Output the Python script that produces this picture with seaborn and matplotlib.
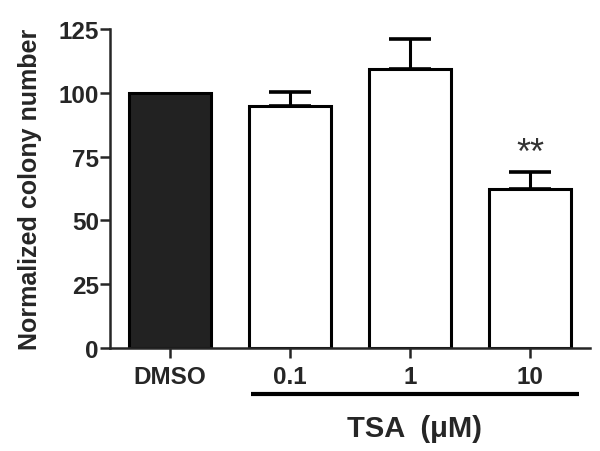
import matplotlib
matplotlib.use("Agg")
import matplotlib.pyplot as plt
import matplotlib.transforms as mtransforms
import numpy as np
import pandas as pd
import seaborn as sns

# values
groups = ["DMSO", "0.1", "1", "10"]
means = [100, 95, 109.5, 62.5]
sems = [0, 5.5, 11.5, 6.5]
bar_colors = ["#222222", "white", "white", "white"]
stars = ["", "", "", "**"]

sns.set_style("ticks")
plt.rcParams["font.family"] = ["Liberation Sans", "DejaVu Sans"]

df = pd.DataFrame({"group": groups, "mean": means, "sem": sems})

fig = plt.figure(figsize=(6, 4.52), dpi=100)
ax = fig.add_axes([110 / 600, 103 / 452, 480 / 600, 319 / 452])

sns.barplot(data=df, x="group", y="mean", hue="group", palette=bar_colors,
            legend=False, width=0.68, edgecolor="black", linewidth=2.2,
            errorbar=None, ax=ax)

# upper-only error bars
x = np.arange(len(groups))
err = np.array(sems)
ax.errorbar(x[err > 0], np.array(means)[err > 0],
            yerr=[np.zeros((err > 0).sum()), err[err > 0]],
            fmt="none", ecolor="black", elinewidth=2.2, capsize=15, capthick=2.6)

for i, s in enumerate(stars):
    if s:
        ax.text(i, means[i] + sems[i] + 0.5, s, ha="center", va="bottom",
                fontsize=26, color="#333333")

ax.set_ylim(0, 125)
ax.set_xlim(-0.5, 3.5)
ax.set_yticks([0, 25, 50, 75, 100, 125])
ax.set_xlabel("")
ax.set_ylabel("Normalized colony number", fontsize=18, fontweight="bold")
ax.yaxis.set_label_coords(-0.142, 0.5)
ax.tick_params(axis="both", direction="out", length=7, width=1.8, labelsize=17.5)
for lab in ax.get_xticklabels() + ax.get_yticklabels():
    lab.set_fontweight("bold")
ax.tick_params(axis="x", pad=5)
ax.tick_params(axis="y", pad=1)

sns.despine(ax=ax)
for sp in ["left", "bottom"]:
    ax.spines[sp].set_linewidth(1.8)

# TSA bracket line under the treated groups
trans = mtransforms.blended_transform_factory(ax.transData, ax.transAxes)
ax.plot([0.675, 3.41], [-0.144, -0.144], color="black", lw=3,
        transform=trans, clip_on=False, solid_capstyle="butt")
ax.text(2.04, -0.25, "TSA  (\u03bcM)", transform=trans, ha="center", va="center",
        fontsize=21, fontweight="bold")

fig.savefig("out.png", dpi=100)
